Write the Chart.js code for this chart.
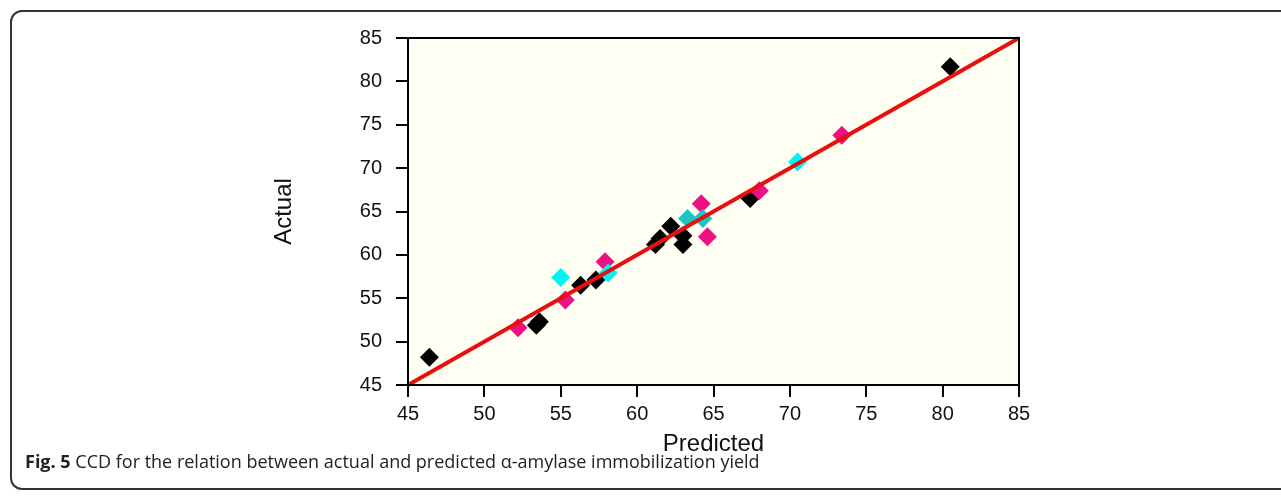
<!DOCTYPE html>
<html>
<head>
<meta charset="utf-8">
<script src="https://cdn.jsdelivr.net/npm/chart.js@4"></script>
<style>
  html, body { margin: 0; padding: 0; background: #fff; }
  #wrap { position: relative; width: 1281px; height: 500px; overflow: hidden; }
  #frame {
    position: absolute; left: 10px; top: 10px; width: 1300px; height: 480px;
    border: 2px solid #333; border-radius: 12px; box-sizing: border-box;
  }
  #chart { position: absolute; left: 0; top: 0; }
  #caption {
    position: absolute; left: 25px; top: 449px;
    font-family: "Open Sans", sans-serif; font-size: 18px; color: #222; white-space: nowrap;
  }
  #caption b { font-weight: 700; }
</style>
</head>
<body>
<div id="wrap">
  <div id="frame"></div>
  <canvas id="chart" width="1281" height="500"></canvas>
  <div id="caption"><b>Fig. 5</b> CCD for the relation between actual and predicted α-amylase immobilization yield</div>
</div>
<script>
// values (Predicted, Actual)
const blackPredicted = [46.4, 53.4, 53.6, 56.3, 57.3, 61.2, 61.5, 62.2, 63.0, 63.0, 67.4, 80.5];
const blackActual    = [48.2, 51.9, 52.3, 56.5, 57.1, 61.2, 61.9, 63.3, 62.2, 61.2, 66.5, 81.7];
const pinkPredicted  = [52.2, 55.3, 57.9, 64.2, 64.6, 68.0, 73.4];
const pinkActual     = [51.6, 54.8, 59.2, 65.9, 62.1, 67.4, 73.8];
const cyanPredicted  = [55.0, 58.1, 70.5];
const cyanActual     = [57.4, 57.9, 70.7];
const tealPredicted  = [63.3, 64.3];
const tealActual     = [64.2, 64.2];
const fitLine        = [45, 85];
const axisTicks      = [45, 50, 55, 60, 65, 70, 75, 80, 85];

const toPoints = (xs, ys) => xs.map((x, i) => ({ x: x, y: ys[i] }));

const tickFont = { family: 'Liberation Sans, Arial, sans-serif', size: 20 };
const titleFont = { family: 'Liberation Sans, Arial, sans-serif', size: 24 };

const diamond = (label, data, color, order) => ({
    label: label, data: data, order: order,
    pointStyle: 'rectRot', pointRadius: 9.5, pointHoverRadius: 9.5,
    backgroundColor: color, borderColor: color, borderWidth: 0
});

// frame + cream plot background
const plotFrame = {
    id: 'plotFrame',
    beforeDatasetsDraw: (chart) => {
        const { ctx, chartArea: a } = chart;
        ctx.save();
        ctx.fillStyle = '#fefef2';
        ctx.fillRect(a.left, a.top, a.right - a.left, a.bottom - a.top);
        ctx.restore();
    },
    afterDraw: (chart) => {
        const { ctx, chartArea: a } = chart;
        ctx.save();
        ctx.strokeStyle = '#000';
        ctx.lineWidth = 2;
        ctx.strokeRect(a.left, a.top, a.right - a.left, a.bottom - a.top);
        ctx.restore();
    }
};

new Chart(document.getElementById('chart'), {
    type: 'scatter',
    data: {
        datasets: [
            { type: 'line', label: 'fit', data: toPoints(fitLine, fitLine), order: 0,
              borderColor: '#e80f0f', borderWidth: 4, pointRadius: 0, fill: false, clip: false },
            diamond('teal', toPoints(tealPredicted, tealActual), '#1ec4c4', 1),
            diamond('cyan', toPoints(cyanPredicted, cyanActual), '#00f2f2', 2),
            diamond('pink', toPoints(pinkPredicted, pinkActual), '#ec1284', 3),
            diamond('black', toPoints(blackPredicted, blackActual), '#000000', 4)
        ]
    },
    options: {
        responsive: false,
        animation: false,
        events: [],
        layout: { padding: { left: 270, top: 38, right: 262, bottom: 41 } },
        plugins: { legend: { display: false }, tooltip: { enabled: false } },
        scales: {
            x: {
                type: 'linear', min: 45, max: 85,
                afterBuildTicks: (s) => { s.ticks = axisTicks.map(v => ({ value: v })); },
                afterFit: (s) => { s.height = 74; },
                ticks: { color: '#111', font: tickFont, padding: 5, maxRotation: 0 },
                grid: { display: true, drawOnChartArea: false, drawTicks: true, tickLength: 12, color: '#000', lineWidth: 2 },
                border: { display: true, color: '#000', width: 2 },
                title: { display: true, text: 'Predicted', color: '#111', font: titleFont, padding: 0 }
            },
            y: {
                type: 'linear', min: 45, max: 85,
                afterBuildTicks: (s) => { s.ticks = axisTicks.map(v => ({ value: v })); },
                afterFit: (s) => { s.width = 138; },
                ticks: { color: '#111', font: tickFont, padding: 14 },
                grid: { display: true, drawOnChartArea: false, drawTicks: true, tickLength: 12, color: '#000', lineWidth: 2 },
                border: { display: true, color: '#000', width: 2 },
                title: { display: true, text: 'Actual', color: '#111', font: titleFont, padding: 0 }
            }
        }
    },
    plugins: [plotFrame]
});
</script>
</body>
</html>
